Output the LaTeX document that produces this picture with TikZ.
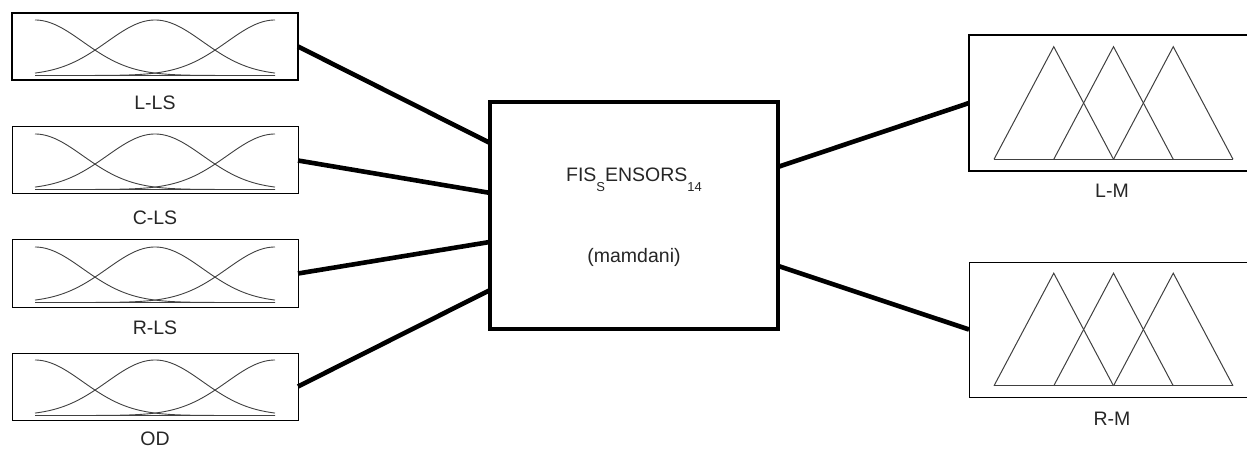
\documentclass[tikz,border=0pt]{standalone}
\usepackage{fontspec}
\setmainfont{Liberation Sans}
\usetikzlibrary{calc}
\begin{document}
\begin{tikzpicture}[x=1pt,y=-1pt,
  every node/.style={inner sep=0pt,outer sep=0pt},
  mfbox/.style={draw=black,line width=#1,minimum width=286pt,fill=white},
  mfbox/.default=1pt,
  curve/.style={draw=black!75,line width=0.9pt},
  wire/.style={draw=black,line width=4.6pt},
  lbl/.style={anchor=base,text=black!85,font=\fontsize{19.5}{19.5}\selectfont}]
\useasboundingbox (0,0) rectangle (1247,449);
\clip (0,0) rectangle (1247,449);

% input boxes
\node[mfbox=2.6pt,minimum height=67pt] (lls) at (155,46.5) {};
\node[mfbox,minimum height=67pt] (cls) at (155,160.5) {};
\node[mfbox,minimum height=68pt] (rls) at (155,273.5) {};
\node[mfbox,minimum height=67pt] (od)  at (155,386.5) {};

% gaussian membership functions
\foreach \cy in {46.5,160.5,273.5,386.5}{
  \begin{scope}[shift={(155,\cy)}]
    \draw[curve] (-120,29) -- (120,29);
    \draw[curve] plot[domain=-120:120,samples=90,smooth] (\x,{29-55.5*exp(-0.5*((\x+120)/48)^2)});
    \draw[curve] plot[domain=-120:120,samples=90,smooth] (\x,{29-55.5*exp(-0.5*((\x)/48)^2)});
    \draw[curve] plot[domain=-120:120,samples=90,smooth] (\x,{29-55.5*exp(-0.5*((\x-120)/48)^2)});
  \end{scope}
}

\node[lbl] (llsl) at (155,110) {L-LS};
\node[lbl] (clsl) at (155,225) {C-LS};
\node[lbl] (rlsl) at (155,334) {R-LS};
\node[lbl] (odl)  at (155,445) {OD};

% central FIS box
\node[draw=black,line width=4pt,minimum width=288pt,minimum height=226pt] (fis) at (634,215.5) {};
\node[lbl] (fisname) at (634,182) {FIS\raisebox{-9.3pt}{\fontsize{13}{13}\selectfont S}ENSORS\raisebox{-9.3pt}{\fontsize{13}{13}\selectfont 14}};
\node[lbl] (fistype) at (634,262) {(mamdani)};

% output boxes
\node[mfbox=2.3pt,minimum height=136pt] (lm) at (1112,103) {};
\node[mfbox,minimum height=135pt] (rm) at (1112,329.5) {};
\foreach \cy in {103,329.5}{
  \begin{scope}[shift={(1113.5,\cy)}]
    \draw[curve,line width=1pt] (-119.5,56.3) -- (119.5,56.3);
    \draw[curve,line width=1pt] (-119.5,56.3) -- (-59.75,-56.3) -- (0,56.3);
    \draw[curve,line width=1pt] (-59.75,56.3) -- (0,-56.3) -- (59.75,56.3);
    \draw[curve,line width=1pt] (0,56.3) -- (59.75,-56.3) -- (119.5,56.3);
  \end{scope}
}
\node[lbl] (lml) at (1112,198) {L-M};
\node[lbl] (rml) at (1112,425) {R-M};

% connectors
\draw[wire] (lls.east) -- ($(fis.north west)!0.179!(fis.south west)$);
\draw[wire] (cls.east) -- ($(fis.north west)!0.40!(fis.south west)$);
\draw[wire] (rls.east) -- ($(fis.north west)!0.617!(fis.south west)$);
\draw[wire] (od.east)  -- ($(fis.north west)!0.83!(fis.south west)$);
\draw[wire] ($(fis.north east)!0.285!(fis.south east)$) -- (lm.west);
\draw[wire] ($(fis.north east)!0.723!(fis.south east)$) -- (rm.west);
\end{tikzpicture}
\end{document}
